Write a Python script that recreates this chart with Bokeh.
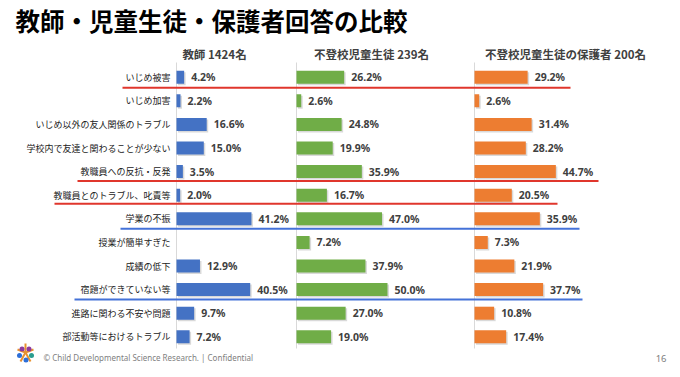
from bokeh.plotting import figure
from bokeh.models import Range1d, ColumnDataSource
from bokeh.core.properties import value
from bokeh.embed import file_html
from bokeh.resources import INLINE

# ---------------- data ----------------
title = "教師・児童生徒・保護者回答の比較"
categories = [
    "いじめ被害", "いじめ加害", "いじめ以外の友人関係のトラブル",
    "学校内で友達と関わることが少ない", "教職員への反抗・反発",
    "教職員とのトラブル、叱責等", "学業の不振", "授業が簡単すぎた",
    "成績の低下", "宿題ができていない等", "進路に関わる不安や問題",
    "部活動等におけるトラブル",
]
series_names = ["教師 1424名", "不登校児童生徒 239名", "不登校児童生徒の保護者 200名"]
teacher = [4.2, 2.2, 16.6, 15.0, 3.5, 2.0, 41.2, None, 12.9, 40.5, 9.7, 7.2]
student = [26.2, 2.6, 24.8, 19.9, 35.9, 16.7, 47.0, 7.2, 37.9, 50.0, 27.0, 19.0]
parent = [29.2, 2.6, 31.4, 28.2, 44.7, 20.5, 35.9, 7.3, 21.9, 37.7, 10.8, 17.4]
footer = "© Child Developmental Science Research. | Confidential"
page_no = "16"

# ---------------- layout / style ----------------
W, H = 680, 377
PX_PER_PCT = 1.82
ROW0, ROW_H = 76.7, 23.6
BAR_H = 13
panel_x = [176, 296, 474]
header_x = [214, 371, 565]
colors = ["#4472C4", "#70AD47", "#ED7D31"]
JP = "Noto Sans CJK JP"
NUM = "Noto Sans"
# (row index, x start, x end, color) for highlight underlines
highlights = [
    (0, 122, 570, "#E0362C"),
    (4, 77, 598, "#E0362C"),
    (5, 54, 557, "#E0362C"),
    (6, 120, 579, "#4472D8"),
    (9, 74, 582, "#4472D8"),
]
underline_dy = [10.5, 9.5, 8.5, 10.0, 10.0]

p = figure(width=W, height=H, x_range=Range1d(0, W), y_range=Range1d(H, 0),
           output_backend="svg", toolbar_location=None, min_border=0,
           background_fill_color="white", border_fill_color="white")
p.axis.visible = False
p.grid.visible = False
p.outline_line_color = None

ys = [ROW0 + i * ROW_H for i in range(len(categories))]

# title
p.text(x=[15], y=[20], text=[title], text_font=value(JP), text_font_size="24.5px",
       text_font_style="bold", text_color="#000000", text_baseline="middle")

# panel axis lines
p.segment(x0=panel_x, y0=[62] * 3, x1=panel_x, y1=[348] * 3,
          line_color="#D9D9D9", line_width=1)

# headers
p.text(x=header_x, y=[53] * 3, text=series_names, text_font=value(JP),
       text_font_size="11.5px", text_font_style="bold", text_color="#404040",
       text_align="center", text_baseline="middle")

# category labels
p.text(x=[170] * len(categories), y=ys, text=categories, text_font=value(JP),
       text_font_size="9px", text_color="#222222", text_align="right",
       text_baseline="middle")

# bars
for vals, x0, col in zip([teacher, student, parent], panel_x, colors):
    yy = [y for y, v in zip(ys, vals) if v is not None]
    vv = [v for v in vals if v is not None]
    right = [x0 + v * PX_PER_PCT for v in vv]
    src = ColumnDataSource(dict(y=yy, left=[x0] * len(vv), right=right,
                                sy=[y + 1.5 for y in yy],
                                sl=[x0 + 1.5] * len(vv),
                                sr=[r + 1.5 for r in right],
                                lx=[r + 7 for r in right],
                                lab=[f"{v:.1f}%" for v in vv]))
    p.hbar(y="sy", left="sl", right="sr", height=BAR_H, source=src,
           fill_color="#000000", fill_alpha=0.15, line_color=None)
    p.hbar(y="y", left="left", right="right", height=BAR_H, source=src,
           fill_color=col, line_color=None)
    p.text(x="lx", y="y", text="lab", source=src, text_font=value(NUM),
           text_font_size="10.5px", text_font_style="bold",
           text_color="#404040", text_baseline="middle")

# highlight underlines
hy = [ys[r] + d for (r, _, _, _), d in zip(highlights, underline_dy)]
p.segment(x0=[h[1] for h in highlights], y0=hy, x1=[h[2] for h in highlights],
          y1=hy, line_color=[h[3] for h in highlights], line_width=2)

# footer logo (decorative)
p.segment(x0=[25, 25, 25, 25, 25], y0=[352] * 5,
          x1=[25, 33, 30, 20, 17], y1=[343, 349, 361, 361, 349],
          line_color="#E8912F", line_width=2)
p.scatter(x=[21.5, 28.5, 31, 25.5, 19], y=[348.5, 348.5, 355, 359.5, 355],
          size=5, fill_color=["#8E3A9D", "#8E3A9D", "#2A9D8F", "#2E6FD8", "#2E6FD8"],
          line_color=None)

p.text(x=[43], y=[357], text=[footer], text_font=value(NUM), text_font_size="8px",
       text_color="#808080", text_baseline="middle")
p.text(x=[666], y=[358], text=[page_no], text_font=value(NUM), text_font_size="9.5px",
       text_color="#808080", text_align="right", text_baseline="middle")

open("out.html", "w").write(file_html(p, INLINE))
